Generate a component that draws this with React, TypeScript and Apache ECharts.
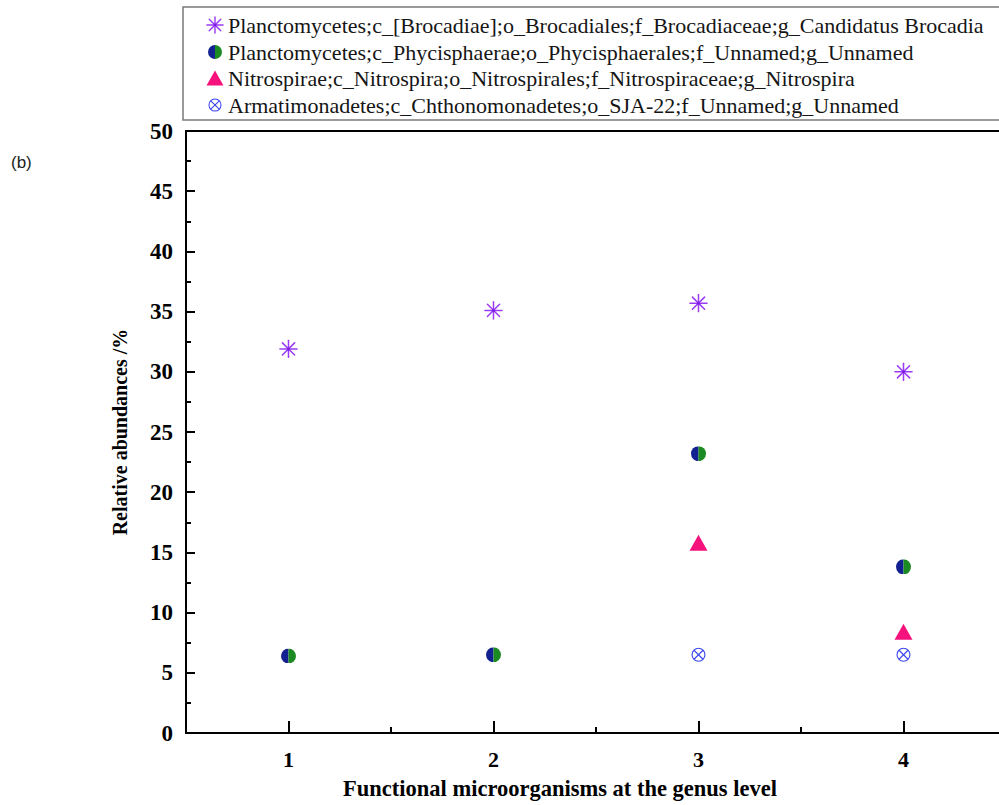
import { useEffect, useRef } from 'react';
import * as echarts from 'echarts';

const xValues = [1, 2, 3, 4];
const seriesNames = [
  'Planctomycetes;c_[Brocadiae];o_Brocadiales;f_Brocadiaceae;g_Candidatus Brocadia',
  'Planctomycetes;c_Phycisphaerae;o_Phycisphaerales;f_Unnamed;g_Unnamed',
  'Nitrospirae;c_Nitrospira;o_Nitrospirales;f_Nitrospiraceae;g_Nitrospira',
  'Armatimonadetes;c_Chthonomonadetes;o_SJA-22;f_Unnamed;g_Unnamed',
];
const brocadia = [31.9, 35.1, 35.7, 30.0];
const phycisphaerae = [6.4, 6.5, 23.2, 13.8];
const nitrospira = [null, null, 15.8, 8.4];
const armatimonadetes = [null, null, 6.5, 6.5];
const yTicks = [0, 5, 10, 15, 20, 25, 30, 35, 40, 45, 50];
const xLabelValues = [1, 2, 3, 4];
const xMinorValues = [1.5, 2.5, 3.5];

const svgData = (s: string) => 'data:image/svg+xml;charset=utf-8,' + encodeURIComponent(s);

const asteriskSvg = svgData(
  '<svg xmlns="http://www.w3.org/2000/svg" width="20" height="20" viewBox="0 0 20 20">' +
    '<g stroke="#9a3cf5" stroke-width="1.6" stroke-linecap="round">' +
    '<line x1="10" y1="1" x2="10" y2="19"/><line x1="1" y1="10" x2="19" y2="10"/>' +
    '<line x1="3.6" y1="3.6" x2="16.4" y2="16.4"/><line x1="16.4" y1="3.6" x2="3.6" y2="16.4"/>' +
    '</g><circle cx="10" cy="10" r="1.6" fill="#7a1fe0"/></svg>'
);
const halfCircleSvg = svgData(
  '<svg xmlns="http://www.w3.org/2000/svg" width="20" height="20" viewBox="0 0 20 20">' +
    '<path d="M10 0 A10 10 0 0 0 10 20 Z" fill="#13208f"/>' +
    '<path d="M10 0 A10 10 0 0 1 10 20 Z" fill="#1b8a22"/></svg>'
);
const crossCircleSvg = svgData(
  '<svg xmlns="http://www.w3.org/2000/svg" width="20" height="20" viewBox="0 0 20 20">' +
    '<g stroke="#3a45f0" stroke-width="1.5" fill="none">' +
    '<circle cx="10" cy="10" r="8.6"/><line x1="4" y1="4" x2="16" y2="16"/><line x1="16" y1="4" x2="4" y2="16"/>' +
    '</g></svg>'
);
const triangleColor = '#f5127c';

const toPairs = (vals: (number | null)[]) =>
  xValues.map((x, i) => [x, vals[i]]).filter((p) => p[1] !== null);

const serif = 'Liberation Serif';

export default function App() {
  const ref = useRef<HTMLDivElement>(null);
  useEffect(() => {
    document.body.style.margin = '0';
    document.body.style.overflow = 'hidden';
    if (!ref.current) return;
    const chart = echarts.init(ref.current, null, { renderer: 'svg' });

    const rowY = [25, 52, 78.5, 105];
    const iconX = 215;
    const icons: any[] = [
      { type: 'image', style: { image: asteriskSvg, x: iconX - 9, y: rowY[0] - 9, width: 18, height: 18 } },
      { type: 'image', style: { image: halfCircleSvg, x: iconX - 7, y: rowY[1] - 7, width: 14, height: 14 } },
      {
        type: 'polygon',
        shape: { points: [[iconX, rowY[2] - 8], [iconX + 8.5, rowY[2] + 7], [iconX - 8.5, rowY[2] + 7]] },
        style: { fill: triangleColor },
      },
      { type: 'image', style: { image: crossCircleSvg, x: iconX - 7, y: rowY[3] - 7, width: 14, height: 14 } },
    ];
    const legendTexts = seriesNames.map((name, i) => ({
      type: 'text',
      x: 228,
      y: rowY[i],
      style: {
        text: name,
        fontFamily: serif,
        fontWeight: 'normal',
        fontSize: 22,
        fill: '#151515',
        verticalAlign: 'middle',
        align: 'left',
      },
    }));

    chart.setOption({
      animation: false,
      backgroundColor: '#ffffff',
      textStyle: { fontFamily: serif },
      grid: {
        left: 186,
        top: 131,
        right: 6,
        bottom: 70,
        show: true,
        borderColor: '#000',
        borderWidth: 2,
        backgroundColor: 'transparent',
      },
      graphic: [
        {
          type: 'rect',
          shape: { x: 183, y: 7, width: 840, height: 113 },
          style: { fill: '#fff', stroke: '#7a7a7a', lineWidth: 1.5 },
        },
        ...icons,
        ...legendTexts,
        {
          type: 'text',
          x: 11,
          y: 162,
          style: { text: '(b)', fontFamily: 'Liberation Sans', fontWeight: 'normal', fontSize: 17, fill: '#222', verticalAlign: 'middle' },
        },
      ],
      xAxis: [
        {
          type: 'value',
          min: 0.5,
          max: 4.5,
          position: 'bottom',
          name: 'Functional microorganisms at the genus level',
          nameLocation: 'middle',
          nameGap: 44,
          nameTextStyle: {
            fontFamily: serif,
            fontSize: 22.5,
            fontWeight: 'bold',
            color: '#000',
            padding: [0, 72, 0, 0],
          },
          axisLine: { show: true, lineStyle: { color: '#000', width: 2 } },
          axisTick: { show: true, inside: true, length: 12, lineStyle: { color: '#000', width: 2 }, customValues: xLabelValues },
          axisLabel: {
            show: true,
            margin: 15,
            customValues: xLabelValues,
            fontFamily: serif,
            fontSize: 22,
            fontWeight: 'bold',
            color: '#000',
          },
          splitLine: { show: false },
        },
        {
          type: 'value',
          min: 0.5,
          max: 4.5,
          position: 'bottom',
          axisLine: { show: false },
          axisTick: { show: true, inside: true, length: 6, lineStyle: { color: '#000', width: 2 }, customValues: xMinorValues },
          axisLabel: { show: false },
          splitLine: { show: false },
        },
      ],
      yAxis: {
        type: 'value',
        min: 0,
        max: 50,
        interval: 5,
        name: 'Relative abundances /%',
        nameLocation: 'middle',
        nameGap: 56,
        nameTextStyle: { fontFamily: serif, fontSize: 20, fontWeight: 'bold', color: '#000' },
        axisLine: { show: true, lineStyle: { color: '#000', width: 2 } },
        axisTick: { show: true, inside: true, length: 9, lineStyle: { color: '#000', width: 2 } },
        minorTick: { show: true, splitNumber: 2, length: 5, lineStyle: { color: '#000', width: 2 } },
        axisLabel: {
          margin: 13,
          fontFamily: serif,
          fontSize: 23,
          fontWeight: 'bold',
          color: '#000',
          formatter: (v: number) => (yTicks.includes(v) ? String(v) : ''),
        },
        splitLine: { show: false },
        minorSplitLine: { show: false },
      },
      series: [
        {
          name: seriesNames[0],
          type: 'scatter',
          symbol: 'image://' + asteriskSvg,
          symbolSize: 19,
          itemStyle: { opacity: 1 },
          data: toPairs(brocadia),
        },
        {
          name: seriesNames[1],
          type: 'scatter',
          symbol: 'image://' + halfCircleSvg,
          symbolSize: 15,
          itemStyle: { opacity: 1 },
          data: toPairs(phycisphaerae),
        },
        {
          name: seriesNames[2],
          type: 'scatter',
          symbol: 'triangle',
          symbolSize: [18, 16],
          itemStyle: { color: triangleColor, opacity: 1 },
          data: toPairs(nitrospira),
        },
        {
          name: seriesNames[3],
          type: 'scatter',
          symbol: 'image://' + crossCircleSvg,
          symbolSize: 15,
          itemStyle: { opacity: 1 },
          data: toPairs(armatimonadetes),
        },
      ],
    });
    return () => chart.dispose();
  }, []);
  return (
    <div style={{ width: 999, height: 805, position: 'absolute', left: 0, top: 0, overflow: 'hidden' }}>
      <div ref={ref} style={{ width: 1012, height: 805 }} />
    </div>
  );
}
